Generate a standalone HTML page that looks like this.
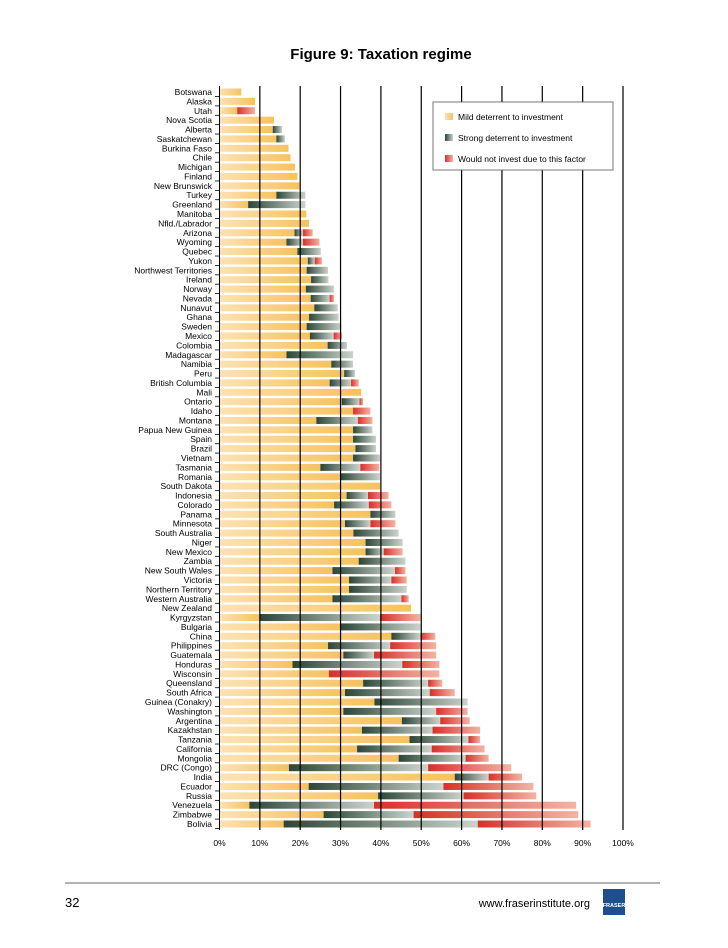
<!DOCTYPE html>
<html><head><meta charset="utf-8"><style>
body{margin:0;background:#fff;font-family:"Liberation Sans",sans-serif;}
svg text{font-family:"Liberation Sans",sans-serif;}
</style></head><body>
<svg id="chart" width="728" height="943" viewBox="0 0 728 943" xmlns="http://www.w3.org/2000/svg">
<defs>
<linearGradient id="gMild" x1="0" x2="1" y1="0" y2="0"><stop offset="0" stop-color="#fde2b4"/><stop offset="1" stop-color="#f6c25e"/></linearGradient>
<linearGradient id="gStrong" x1="0" x2="1" y1="0" y2="0"><stop offset="0" stop-color="#2c4636"/><stop offset="1" stop-color="#ccd3cc"/></linearGradient>
<linearGradient id="gRed" x1="0" x2="1" y1="0" y2="0"><stop offset="0" stop-color="#d8302a"/><stop offset="1" stop-color="#f4b3a4"/></linearGradient>
</defs>
<text x="381" y="59" text-anchor="middle" font-size="15" font-weight="bold">Figure 9: Taxation regime</text>
<g id="grid"></g>
<g id="bars"></g>
<g id="labels"></g>
<g id="xaxis"></g>
<g>
<rect x="433" y="102" width="180" height="68" fill="#fff" stroke="#555" stroke-width="0.8"/>
<rect x="445" y="113" width="8" height="7" fill="url(#gMild)"/>
<text x="458" y="120" font-size="8.5">Mild deterrent to investment</text>
<rect x="445" y="134" width="8" height="7" fill="url(#gStrong)"/>
<text x="458" y="141" font-size="8.5">Strong deterrent to investment</text>
<rect x="445" y="155" width="8" height="7" fill="url(#gRed)"/>
<text x="458" y="162" font-size="8.5">Would not invest due to this factor</text>
</g>
<line x1="65" y1="883" x2="660" y2="883" stroke="#333" stroke-width="0.8"/>
<text x="65" y="907" font-size="13">32</text>
<text x="590" y="907" font-size="11" text-anchor="end">www.fraserinstitute.org</text>
<rect x="603" y="889" width="22" height="26" fill="#1f4e8c"/>
<text x="614" y="907" font-size="5.5" fill="#fff" text-anchor="middle" font-weight="bold">FRASER</text>
</svg>
<script>
const categories=["Botswana","Alaska","Utah","Nova Scotia","Alberta","Saskatchewan","Burkina Faso","Chile","Michigan","Finland","New Brunswick","Turkey","Greenland","Manitoba","Nfld./Labrador","Arizona","Wyoming","Quebec","Yukon","Northwest Territories","Ireland","Norway","Nevada","Nunavut","Ghana","Sweden","Mexico","Colombia","Madagascar","Namibia","Peru","British Columbia","Mali","Ontario","Idaho","Montana","Papua New Guinea","Spain","Brazil","Vietnam","Tasmania","Romania","South Dakota","Indonesia","Colorado","Panama","Minnesota","South Australia","Niger","New Mexico","Zambia","New South Wales","Victoria","Northern Territory","Western Australia","New Zealand","Kyrgyzstan","Bulgaria","China","Philippines","Guatemala","Honduras","Wisconsin","Queensland","South Africa","Guinea (Conakry)","Washington","Argentina","Kazakhstan","Tanzania","California","Mongolia","DRC (Congo)","India","Ecuador","Russia","Venezuela","Zimbabwe","Bolivia"];
// cumulative ends: mild, mild+strong, total
const mildEnd=[5.4,8.8,4.4,13.5,13.2,14.1,17.1,17.6,18.7,19.3,19.8,14.1,7.1,21.5,22.2,18.6,16.6,19.3,21.9,21.6,22.7,21.4,22.6,23.5,22.2,21.6,22.4,26.8,16.6,27.7,30.9,27.3,35.1,30.3,33.1,24.0,33.1,33.1,33.7,33.1,25.0,29.9,39.8,31.5,28.4,37.4,31.1,33.2,36.2,36.2,34.5,28.0,32.1,32.1,28.0,47.5,9.9,29.9,42.6,26.9,30.7,18.1,27.1,35.6,31.1,38.4,30.7,45.2,35.3,47.1,34.1,44.4,17.2,58.3,22.1,39.3,7.4,25.8,15.9];
const strongEnd=[5.4,8.8,4.4,13.5,15.5,16.2,17.1,17.6,18.7,19.3,19.8,21.3,21.3,21.5,22.2,20.7,20.7,25.1,23.6,26.9,27.0,28.4,27.3,29.3,29.5,30.2,28.3,31.6,33.1,33.1,33.6,32.6,35.1,34.7,33.1,34.3,37.9,38.8,38.8,39.8,34.9,39.8,39.8,36.8,37.0,43.6,37.4,44.4,45.4,40.7,46.1,43.5,42.6,46.4,45.1,47.5,39.8,49.8,49.8,42.3,38.3,45.3,27.1,51.7,52.1,61.5,53.7,54.7,52.8,61.7,52.6,61.0,51.7,66.7,55.5,60.5,38.3,48.1,64.0];
const totalEnd=[5.4,8.8,8.8,13.5,15.5,16.2,17.1,17.6,18.7,19.3,19.8,21.3,21.3,21.5,22.2,23.1,24.8,25.1,25.4,26.9,27.0,28.4,28.4,29.3,29.5,30.2,30.4,31.6,33.1,33.1,33.6,34.5,35.1,35.6,37.4,37.9,37.9,38.8,38.8,39.8,39.6,39.8,39.8,41.9,42.6,43.6,43.6,44.4,45.4,45.4,46.1,46.1,46.4,46.4,46.9,47.5,49.8,49.8,53.5,53.7,53.7,54.5,54.5,55.2,58.3,61.5,61.5,62.0,64.6,64.6,65.7,66.7,72.3,75.0,77.8,78.5,88.4,88.9,92.0];
const xTicks=[0,10,20,30,40,50,60,70,80,90,100];

const NS="http://www.w3.org/2000/svg";
const x0=219.5,pxPer=4.035,yTop=92,yStep=(824-92)/(categories.length-1),barH=7;
const xs=v=>x0+v*pxPer;
const ys=i=>yTop+i*yStep;
function mk(tag,attrs,parent){const e=document.createElementNS(NS,tag);for(const k in attrs)e.setAttribute(k,attrs[k]);parent.appendChild(e);return e;}
const grid=document.getElementById('grid'),bars=document.getElementById('bars'),labels=document.getElementById('labels'),xaxis=document.getElementById('xaxis');
xTicks.forEach(t=>{
  const l=mk('line',{x1:xs(t),x2:xs(t),y1:86,y2:830,stroke:'#000','stroke-width':t===0?1:1.2},grid);
  
  
  const tx=mk('text',{x:xs(t),y:846,'font-size':8.5,'text-anchor':'middle'},xaxis);
  tx.textContent=t+'%';
  
  
});
categories.forEach((c,i)=>{
  const y=ys(i);
  const tk=mk('line',{x1:215,x2:219.5,y1:y+4.5,y2:y+4.5,stroke:'#000','stroke-width':0.8},labels);
  
  
  const t=mk('text',{x:212,y:y+3,'font-size':8.5,'text-anchor':'end'},labels);
  t.textContent=c;
  
  
  const segs=[[0,mildEnd[i],'gMild','bar-mild'],[mildEnd[i],strongEnd[i],'gStrong','bar-strong'],[strongEnd[i],totalEnd[i],'gRed','bar-would-not']];
  segs.forEach(s=>{
    if(s[1]-s[0]<=0.05)return;
    const r=mk('rect',{x:xs(s[0]),y:y-barH/2,width:(s[1]-s[0])*pxPer,height:barH,fill:'url(#'+s[2]+')'},bars);
    
    
  });
});
// grid drawn over bars like the reference
document.getElementById('chart').insertBefore(bars,grid);
</script>
</body></html>
